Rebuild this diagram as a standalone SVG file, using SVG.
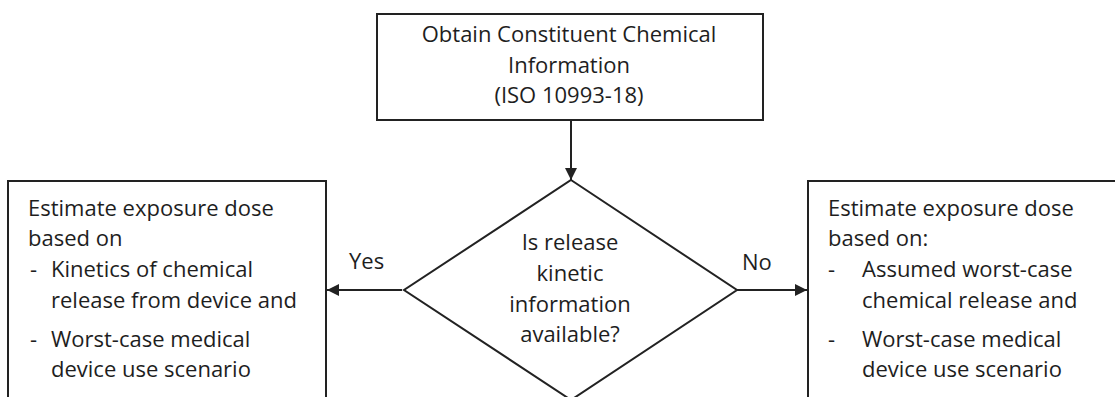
<svg xmlns="http://www.w3.org/2000/svg" width="1115" height="397" viewBox="0 0 1115 397">
<style>
.box{fill:#fff;stroke:#222;stroke-width:2}
.t{font-family:"Open Sans","Liberation Sans",sans-serif;font-size:22px;fill:#1e1e1e}
.c{text-anchor:middle}
.ln{stroke:#222;stroke-width:2;fill:none}
</style>
<defs>
<marker id="ah" viewBox="0 0 12 12" refX="12" refY="6" markerWidth="13" markerHeight="12" markerUnits="userSpaceOnUse" orient="auto"><path d="M0,0 L12,6 L0,12 z" fill="#222"/></marker>
</defs>
<rect width="1115" height="397" fill="#fff"/>
<g id="connectors">
<line class="ln" x1="571" y1="120" x2="571" y2="180" marker-end="url(#ah)"/>
<line class="ln" x1="402" y1="290" x2="327" y2="290" marker-end="url(#ah)"/>
<line class="ln" x1="737" y1="290" x2="807" y2="290" marker-end="url(#ah)"/>
<text class="t" x="349" y="269">Yes</text>
<text class="t" x="742" y="270">No</text>
</g>
<g id="start">
<rect class="box" x="377" y="14" width="386" height="106"/>
<text class="t c" x="569" y="42">Obtain Constituent Chemical</text>
<text class="t c" x="569" y="73">Information</text>
<text class="t c" x="569" y="103">(ISO 10993-18)</text>
</g>
<g id="decision">
<polygon class="box" points="571,180 737,290 571,400 404,290"/>
<text class="t c" x="570" y="250">Is release</text>
<text class="t c" x="570" y="281">kinetic</text>
<text class="t c" x="570" y="312">information</text>
<text class="t c" x="570" y="342">available?</text>
</g>
<g id="yes-box">
<rect class="box" x="8" y="181" width="318" height="230"/>
<text class="t" x="28" y="216">Estimate exposure dose</text>
<text class="t" x="28" y="246">based on</text>
<text class="t" x="30" y="277">-</text>
<text class="t" x="51" y="277">Kinetics of chemical</text>
<text class="t" x="51" y="308">release from device and</text>
<text class="t" x="30" y="347">-</text>
<text class="t" x="51" y="347">Worst-case medical</text>
<text class="t" x="51" y="377">device use scenario</text>
</g>
<g id="no-box">
<rect class="box" x="808" y="181" width="330" height="230"/>
<text class="t" x="828" y="216">Estimate exposure dose</text>
<text class="t" x="828" y="246">based on:</text>
<text class="t" x="828" y="277">-</text>
<text class="t" x="862" y="277">Assumed worst-case</text>
<text class="t" x="862" y="308">chemical release and</text>
<text class="t" x="828" y="347">-</text>
<text class="t" x="862" y="347">Worst-case medical</text>
<text class="t" x="862" y="377">device use scenario</text>
</g>
</svg>
